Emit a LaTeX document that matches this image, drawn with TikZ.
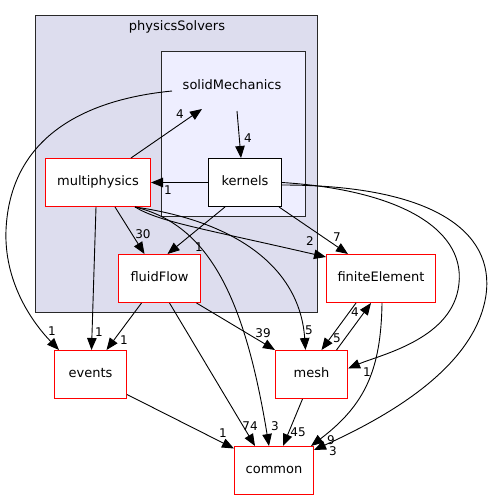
\documentclass[tikz,border=0pt]{standalone}
\usepackage{fontspec}
\setmainfont{DejaVu Sans}
\usepackage{tikz}
\usetikzlibrary{arrows.meta}
\usepackage{xcolor}
\definecolor{ColRed}{RGB}{255,0,0}
\definecolor{ColOut}{RGB}{221,221,238}
\definecolor{ColIn}{RGB}{238,238,255}
\definecolor{ColFrame}{RGB}{40,40,40}
\tikzstyle{ClusterOut}=[draw=ColFrame,fill=ColOut,inner sep=0pt,line width=1pt]
\tikzstyle{ClusterIn}=[draw=ColFrame,fill=ColIn,inner sep=0pt,line width=1pt]
\tikzstyle{NodeDir}=[draw=ColRed,fill=white,inner sep=0pt,minimum height=48pt,line width=1pt,
text height=9.5pt,text depth=3pt,font=\fontsize{13}{15}\selectfont]
\tikzstyle{NodeSub}=[NodeDir,draw=black]
\tikzstyle{TextCluster}=[inner sep=0pt,text height=9.5pt,text depth=3pt,font=\fontsize{13}{15}\selectfont]
\tikzstyle{EdgeDep}=[black,line width=0.9pt,-{Triangle[length=12pt,width=9.5pt]}]
\tikzstyle{EdgeLabel}=[inner sep=0pt,font=\fontsize{12}{14}\selectfont]

\begin{document}
\begin{tikzpicture}[x=1pt,y=-1pt]
        \useasboundingbox (0,0) rectangle (492,500);
        % clusters
        \node[ClusterOut,minimum width=282pt,minimum height=297pt](ps)at(176.5,164){};
        \node[TextCluster](psl)at(177,27){physicsSolvers};
        \node[ClusterIn,minimum width=144pt,minimum height=165pt](sm)at(233.5,134){};
        \node[TextCluster](sml)at(232,86){solidMechanics};
        \coordinate(smA)at(202,109);
        \coordinate(smB)at(237,111);
        \coordinate(smC)at(172,91);
        % directories
        \node[NodeDir,minimum width=105pt](mp)at(98,182.5){multiphysics};
        \node[NodeSub,minimum width=73pt](k)at(245,182.5){kernels};
        \node[NodeDir,minimum width=82pt](ff)at(159.5,278.5){fluidFlow};
        \node[NodeDir,minimum width=109pt](fe)at(381,278.5){finiteElement};
        \node[NodeDir,minimum width=72pt](evt)at(90.5,374.5){events};
        \node[NodeDir,minimum width=72pt](me)at(311.5,374.5){mesh};
        \node[NodeDir,minimum width=79pt](co)at(274,470.5){common};
        % dependencies
        \draw[EdgeDep](smC)..controls(80,100)and(10,140)..(6,230)..controls(4,280)and(30,320)..([xshift=5]evt.north west);
        \draw[EdgeDep]([xshift=33]mp.north)--(smA);
        \draw[EdgeDep](smB)--([xshift=-4]k.north);
        \draw[EdgeDep](k.west)--(mp.east);
        \draw[EdgeDep]([xshift=17]mp.south)--([xshift=-15]ff.north);
        \draw[EdgeDep]([xshift=-20]k.south)--([xshift=8]ff.north);
        \draw[EdgeDep]([xshift=37]mp.south)..controls(160,222)and(200,228)..([yshift=-3]fe.north west);
        \draw[EdgeDep]([xshift=34]k.south)--([xshift=-33]fe.north);
        \draw[EdgeDep]([xshift=37]mp.south)..controls(240,222)and(300,270)..([xshift=-6]me.north);
        \draw[EdgeDep]([xshift=37]mp.south)..controls(210,225)and(245,300)..([xshift=-5]co.north);
        \draw[EdgeDep]([xshift=-2]mp.south)--([xshift=1]evt.north);
        \draw[EdgeDep]([xshift=-18]ff.south)--([xshift=16]evt.north);
        \draw[EdgeDep]([xshift=37]ff.south)--(me.north west);
        \draw[EdgeDep]([xshift=10]ff.south)--([xshift=-19]co.north);
        \draw[EdgeDep](k.east)..controls(400,190)and(470,230)..(458,290)..controls(448,340)and(380,355)..([yshift=6]me.east);
        \draw[EdgeDep]([yshift=-2.5]k.east)..controls(430,185)and(495,230)..(486,295)..controls(475,370)and(380,420)..([yshift=-4]co.north east);
        \draw[EdgeDep]([xshift=-25]fe.south)--([xshift=10]me.north);
        \draw[EdgeDep]([xshift=25]me.north)--([xshift=-10]fe.south);
        \draw[EdgeDep]([xshift=1]fe.south)..controls(381,370)and(365,405)..([xshift=-3]co.north east);
        \draw[EdgeDep]([xshift=-9]me.south)--([xshift=9]co.north);
        \draw[EdgeDep]([yshift=-20]evt.east)--([yshift=-2.5]co.north west);
        % counts
        \node[EdgeLabel](l1)at(52,331){1};
        \node[EdgeLabel](l2)at(180,114){4};
        \node[EdgeLabel](l3)at(248,138){4};
        \node[EdgeLabel](l4)at(168,190){1};
        \node[EdgeLabel](l5)at(143,234){30};
        \node[EdgeLabel](l6)at(199,247){1};
        \node[EdgeLabel](l7)at(310,241){2};
        \node[EdgeLabel](l8)at(337,237){7};
        \node[EdgeLabel](l9)at(309,330){5};
        \node[EdgeLabel](l10)at(275,426){3};
        \node[EdgeLabel](l11)at(99,332){1};
        \node[EdgeLabel](l12)at(124,340){1};
        \node[EdgeLabel](l13)at(263,333){39};
        \node[EdgeLabel](l14)at(250,426){74};
        \node[EdgeLabel](l15)at(367,372){1};
        \node[EdgeLabel](l16)at(333,451){3};
        \node[EdgeLabel](l17)at(337,338){5};
        \node[EdgeLabel](l18)at(355,312){4};
        \node[EdgeLabel](l19)at(331,440){9};
        \node[EdgeLabel](l20)at(298,432){45};
        \node[EdgeLabel](l21)at(223,433){1};
    \end{tikzpicture}
\end{document}
